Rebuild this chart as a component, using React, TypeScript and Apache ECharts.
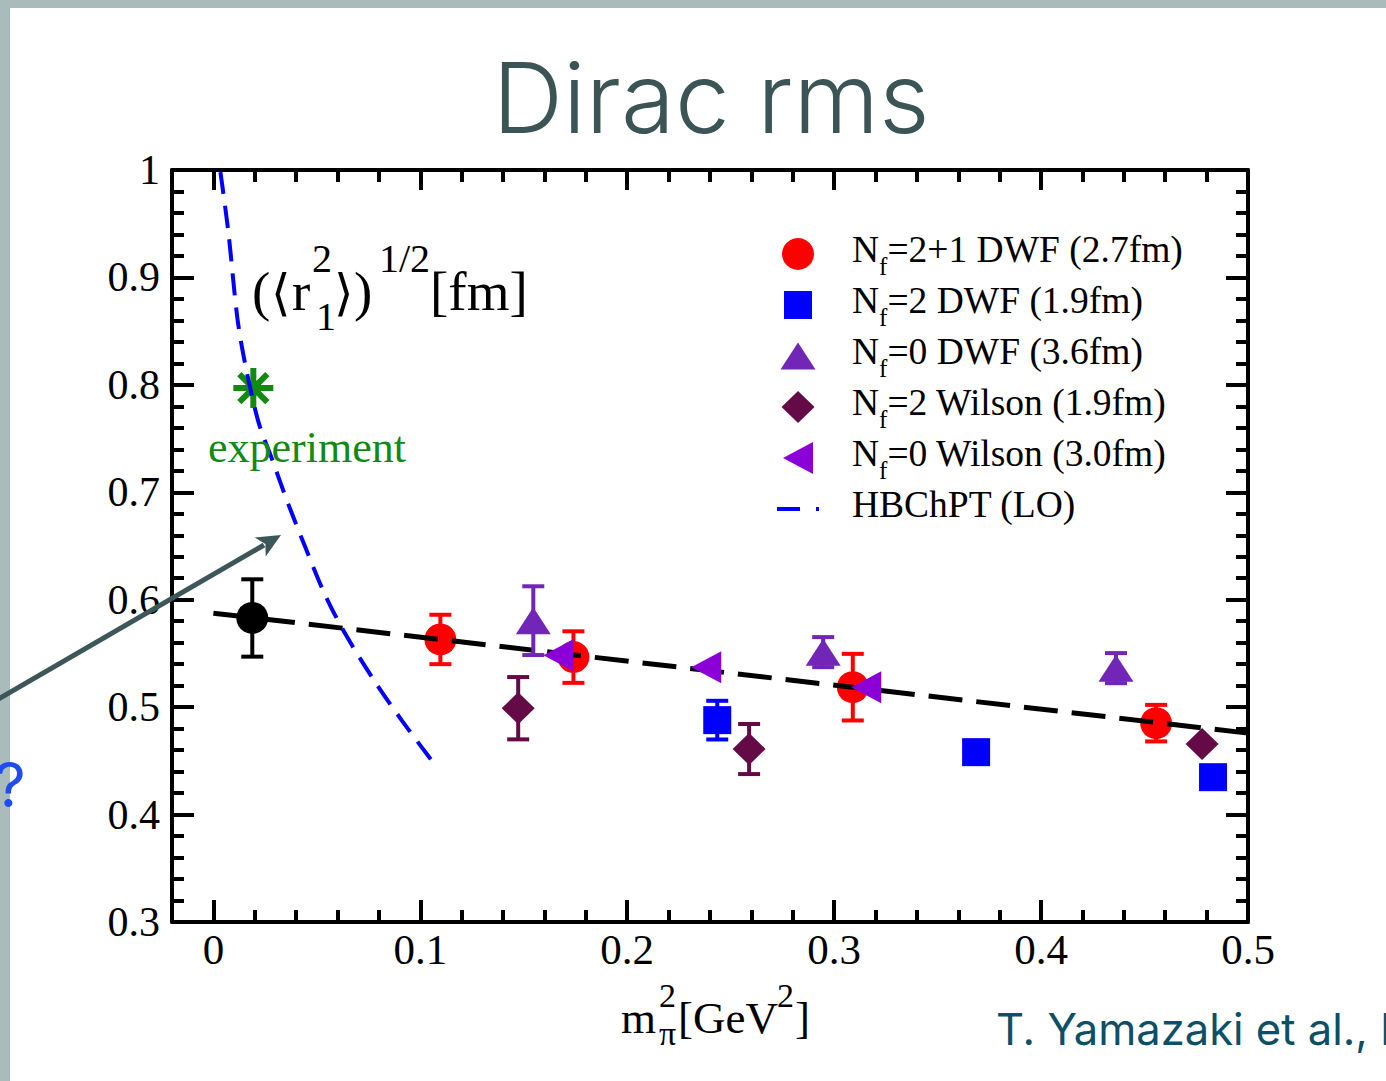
import React, { useEffect, useRef } from 'react';
import * as echarts from 'echarts';

const serif = '"Liberation Serif", "Times New Roman", serif';
const sans = 'Inter, "Noto Sans", sans-serif';

// Nf=2+1 DWF (2.7fm)
const dwf21X = [0.1097, 0.174, 0.309, 0.4556];
const dwf21Y = [0.563, 0.5466, 0.5186, 0.4851];
const dwf21Err = [0.023, 0.024, 0.031, 0.017];

// Nf=2 DWF (1.9fm)
const dwf2X = [0.2435, 0.3686, 0.4831];
const dwf2Y = [0.4879, 0.4581, 0.4348];
const dwf2Err = [0.018, 0.006, 0];

// Nf=0 DWF (3.6fm)
const dwf0X = [0.1546, 0.2947, 0.4362];
const dwf0Y = [0.5805, 0.5512, 0.5363];
const dwf0Err = [0.032, 0.014, 0.014];

// Nf=2 Wilson (1.9fm)
const wil2X = [0.1473, 0.2589, 0.4778];
const wil2Y = [0.499, 0.461, 0.4656];
const wil2Err = [0.029, 0.0233, 0];

// Nf=0 Wilson (3.0fm)
const wil0X = [0.1667, 0.2382, 0.3155];
const wil0Y = [0.5484, 0.5372, 0.5186];

// extrapolated value at the physical point
const physX = [0.0188];
const physY = [0.583];
const physErr = [0.036];

// experimental value
const expX = [0.0193];
const expY = [0.797];

// linear fit through the lattice data
const fitX = [0, 0.5];
const fitY = [0.5875, 0.4758];

// HBChPT (LO) curve
const hbX = [0.0034, 0.0072, 0.0116, 0.0155, 0.0217, 0.0285, 0.0362, 0.0444, 0.0541, 0.0638, 0.0783, 0.0913, 0.1072];
const hbY = [0.998, 0.943, 0.862, 0.818, 0.766, 0.73, 0.689, 0.649, 0.604, 0.568, 0.523, 0.487, 0.446];

const legendNames = [
  'N_f=2+1 DWF (2.7fm)',
  'N_f=2 DWF (1.9fm)',
  'N_f=0 DWF (3.6fm)',
  'N_f=2 Wilson (1.9fm)',
  'N_f=0 Wilson (3.0fm)',
  'HBChPT (LO)',
];

const RED = '#ff0000';
const BLUE = '#0000ff';
const PURPLE = '#7226b8';
const MAROON = '#640a46';
const VIOLET = '#8a00d6';
const GREEN = '#118a11';

const zip = (xs: number[], ys: number[]) => xs.map((x, i) => [x, ys[i]]);

// legend icons drawn in a 44x32 box (corner anchors fix the bounding box)
const BOX = 'M0,0L0,0M44,32L44,32';
const iconSquare = `path://${BOX}M8,2H36V30H8Z`;
const iconTriUp = `path://${BOX}M4.5,29.5L22,2.5L39.5,29.5Z`;
const iconDiamond = `path://${BOX}M22,0L38.5,16L22,32L5.5,16Z`;
const iconTriLeft = `path://${BOX}M7,16L37,0L37,32Z`;
const iconDash = `path://${BOX}M1,14H24V18H1ZM40,14H43V18H40Z`;

const symTriLeft = 'path://M0,16L30,0L30,32Z';
const symStar =
  'path://M0,17H40V23H0Z' +
  'M17,0H23V40H17Z' +
  'M8.12,3.88L36.12,31.88L31.88,36.12L3.88,8.12Z' +
  'M31.88,3.88L36.12,8.12L8.12,36.12L3.88,31.88Z';

function errorBars(xs: number[], ys: number[], es: number[], color: string, z: number) {
  return {
    type: 'custom',
    z,
    silent: true,
    encode: { x: 0, y: 1 },
    data: xs.map((x, i) => [x, ys[i], es[i]]).filter((d) => d[2] > 0),
    renderItem: (_params: any, api: any) => {
      const x = api.value(0);
      const y = api.value(1);
      const e = api.value(2);
      const top = api.coord([x, y + e]);
      const bot = api.coord([x, y - e]);
      const hw = 11;
      const style = { stroke: color, lineWidth: 4 };
      return {
        type: 'group',
        children: [
          { type: 'line', shape: { x1: top[0], y1: top[1], x2: bot[0], y2: bot[1] }, style },
          { type: 'line', shape: { x1: top[0] - hw, y1: top[1], x2: top[0] + hw, y2: top[1] }, style },
          { type: 'line', shape: { x1: bot[0] - hw, y1: bot[1], x2: bot[0] + hw, y2: bot[1] }, style },
        ],
      };
    },
  };
}

function scatter(name: string | undefined, xs: number[], ys: number[], symbol: string, size: any, color: string, z: number) {
  return {
    type: 'scatter',
    name,
    z,
    symbol,
    symbolSize: size,
    itemStyle: { color, opacity: 1 },
    emphasis: { disabled: true },
    data: zip(xs, ys),
  };
}

// serif text placed by its baseline
function serifText(x: number, baseline: number, text: string, size: number, fill = '#000') {
  return {
    type: 'text',
    x,
    y: baseline - 0.3375 * size,
    z: 50,
    style: {
      text,
      fill,
      fontSize: size,
      fontFamily: serif,
      align: 'left',
      verticalAlign: 'middle',
      textAlign: 'left',
      textVerticalAlign: 'middle',
    },
  };
}

function sansText(x: number, baseline: number, text: string, size: number, fill: string, align = 'left', weight: any = 'normal') {
  return {
    type: 'text',
    x,
    y: baseline - 0.363 * size,
    z: 50,
    style: {
      text,
      fill,
      fontSize: size,
      fontFamily: sans,
      fontWeight: weight,
      align,
      verticalAlign: 'middle',
      textAlign: align,
      textVerticalAlign: 'middle',
    },
  };
}

const axisLineStyle = { color: '#000', width: 4 };

const xMajor = (position: string, showLabel: boolean, len: number) => ({
  type: 'value',
  position,
  min: -0.02,
  max: 0.5,
  axisLine: { show: true, onZero: false, lineStyle: axisLineStyle },
  axisTick: { show: true, inside: true, length: len, lineStyle: { color: '#000', width: 4 } },
  axisLabel: {
    show: showLabel,
    showMinLabel: false,
    color: '#000',
    fontFamily: serif,
    fontSize: 43,
    margin: 6,
  },
  splitLine: { show: false },
});

const xMinor = (position: string) => ({
  type: 'value',
  position,
  min: -0.02,
  max: 0.5,
  interval: 0.02,
  axisLine: { show: false, onZero: false },
  axisTick: { show: true, inside: true, length: 12, lineStyle: { color: '#000', width: 4 } },
  axisLabel: { show: false },
  splitLine: { show: false },
});

const yAxis = (position: string, showLabel: boolean) => ({
  type: 'value',
  position,
  min: 0.3,
  max: 1,
  interval: 0.1,
  axisLine: { show: true, onZero: false, lineStyle: axisLineStyle },
  axisTick: { show: true, inside: true, length: 22, lineStyle: { color: '#000', width: 4 } },
  minorTick: { show: true, splitNumber: 5, length: 12, lineStyle: { color: '#000', width: 4 } },
  axisLabel: { show: showLabel, color: '#000', fontFamily: serif, fontSize: 42, margin: 12 },
  splitLine: { show: false },
});

// arrow geometry (pointer towards the chiral curve)
const arrowTail = [-10, 704];
const arrowTip = [281, 535];

const option: any = {
  animation: false,
  backgroundColor: '#ffffff',
  grid: { left: 172, right: 138, top: 170, bottom: 159, containLabel: false },
  xAxis: [xMajor('bottom', true, 22), xMajor('top', false, 20), xMinor('bottom'), xMinor('top')],
  yAxis: [yAxis('left', true), yAxis('right', false)],
  legend: {
    orient: 'vertical',
    left: 776,
    top: 229,
    padding: 0,
    itemWidth: 44,
    itemHeight: 32,
    itemGap: 1,
    selectedMode: false,
    textStyle: {
      color: '#000',
      fontFamily: serif,
      fontSize: 37,
      padding: [0, 0, 0, 27],
      rich: {
        m: { fontFamily: serif, fontSize: 37.5, lineHeight: 40, padding: [0, 0, 10, 0], color: '#000' },
        s: { fontFamily: serif, fontSize: 25, lineHeight: 25, padding: [25, 0, 0, 0], color: '#000' },
      },
    },
    formatter: (name: string) =>
      name.startsWith('N_f') ? `{m|N}{s|f}{m|${name.slice(3)}}` : `{m|${name}}{s| }`,
    data: [
      { name: legendNames[0], icon: 'circle' },
      { name: legendNames[1], icon: iconSquare },
      { name: legendNames[2], icon: iconTriUp },
      { name: legendNames[3], icon: iconDiamond },
      { name: legendNames[4], icon: iconTriLeft },
      { name: legendNames[5], icon: iconDash },
    ],
  },
  series: [
    errorBars(dwf21X, dwf21Y, dwf21Err, RED, 2),
    scatter(legendNames[0], dwf21X, dwf21Y, 'circle', 32, RED, 2),
    errorBars(physX, physY, physErr, '#000', 2),
    scatter(undefined, physX, physY, 'circle', 32, '#000', 2),
    scatter(undefined, expX, expY, symStar, 40, GREEN, 2),
    {
      type: 'line',
      z: 3,
      silent: true,
      symbol: 'none',
      data: zip(fitX, fitY),
      lineStyle: { color: '#000', width: 5, type: [34, 14] },
      itemStyle: { color: '#000' },
    },
    errorBars(dwf2X, dwf2Y, dwf2Err, BLUE, 4),
    scatter(legendNames[1], dwf2X, dwf2Y, 'rect', 28, BLUE, 4),
    errorBars(dwf0X, dwf0Y, dwf0Err, PURPLE, 4),
    scatter(legendNames[2], dwf0X, dwf0Y, 'triangle', [35, 27], PURPLE, 4),
    errorBars(wil2X, wil2Y, wil2Err, MAROON, 4),
    scatter(legendNames[3], wil2X, wil2Y, 'diamond', [33, 32], MAROON, 4),
    scatter(legendNames[4], wil0X, wil0Y, symTriLeft, [30, 32], VIOLET, 5),
    {
      type: 'line',
      name: legendNames[5],
      z: 6,
      silent: true,
      symbol: 'none',
      smooth: 0.3,
      data: zip(hbX, hbY),
      lineStyle: { color: BLUE, width: 4, type: [22, 12] },
      itemStyle: { color: BLUE },
    },
  ],
  graphic: [
    { type: 'rect', z: 1, shape: { x: 0, y: 0, width: 10, height: 1081 }, style: { fill: '#a9bbba' } },
    { type: 'rect', z: 1, shape: { x: 0, y: 0, width: 1386, height: 8 }, style: { fill: '#a9bbba' } },
    sansText(711, 133, 'Dirac rms', 98, '#3b5557', 'center', 300),
    sansText(996, 1045, 'T. Yamazaki et al., P', 43.5, '#0d4f67'),
    sansText(-6, 807, '?', 62, '#1f4cf2'),
    // y-axis quantity
    serifText(252, 310, '(', 55),
    serifText(271, 310, '⟨', 50),
    serifText(292, 310, 'r', 55),
    serifText(312, 272, '2', 40),
    serifText(316, 330, '1', 40),
    serifText(334, 310, '⟩', 50),
    serifText(354, 310, ')', 55),
    serifText(379, 272, '1/2', 40),
    serifText(430, 310, '[fm]', 55),
    // x-axis quantity
    serifText(621, 1033, 'm', 45),
    serifText(659, 1007, '2', 34),
    serifText(659, 1045, 'π', 34),
    serifText(678, 1033, '[GeV', 45),
    serifText(777, 1007, '2', 34),
    serifText(795, 1033, ']', 45),
    // experiment label
    {
      type: 'text',
      x: 307,
      y: 462 - 0.3375 * 44,
      z: 50,
      style: {
        text: 'experiment',
        fill: GREEN,
        fontSize: 44,
        fontFamily: serif,
        align: 'center',
        verticalAlign: 'middle',
        textAlign: 'center',
        textVerticalAlign: 'middle',
      },
    },
    // arrow
    {
      type: 'line',
      z: 40,
      shape: { x1: arrowTail[0], y1: arrowTail[1], x2: 264, y2: 545 },
      style: { stroke: '#3d5659', lineWidth: 5 },
    },
    {
      type: 'polygon',
      z: 40,
      shape: { points: [arrowTip, [254.7, 537.6], [265.4, 544.0], [265.7, 556.6]] },
      style: { fill: '#3d5659' },
    },
  ],
};

export default function App() {
  const ref = useRef<HTMLDivElement>(null);
  useEffect(() => {
    if (!ref.current) return;
    const chart = echarts.init(ref.current, undefined, { renderer: 'svg' });
    chart.setOption(option);
    return () => chart.dispose();
  }, []);
  return (
    <div
      ref={ref}
      style={{ position: 'fixed', left: 0, top: 0, width: 1386, height: 1081, background: '#fff' }}
    />
  );
}
